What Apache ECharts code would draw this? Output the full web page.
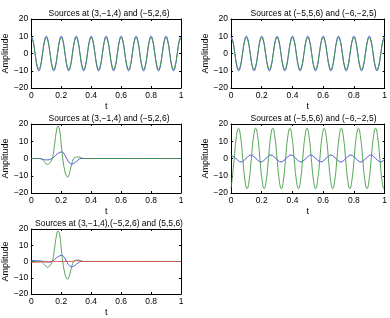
<!DOCTYPE html>
<html>
<head>
<meta charset="utf-8">
<script src="https://cdn.jsdelivr.net/npm/echarts@6/dist/echarts.min.js"></script>
<style>
html, body { margin: 0; padding: 0; background: #fff; }
#chart { width: 390px; height: 318px; }
</style>
</head>
<body>
<div id="chart"></div>
<script>
// panel titles
const titles = [
  'Sources at (3,\u22121,4) and (\u22125,2,6)',
  'Sources at (\u22125,5,6) and (\u22126,\u22122,5)',
  'Sources at (3,\u22121,4) and (\u22125,2,6)',
  'Sources at (\u22125,5,6) and (\u22126,\u22122,5)',
  'Sources at (3,\u22121,4),(\u22125,2,6) and (5,5,6)'
];
const xTicks = [0, 0.2, 0.4, 0.6, 0.8, 1];
const yTicks = [-20, -10, 0, 10, 20];

// top row: 10 Hz tones, sampled every 0.0125 s
const tFine = [
  0, 0.0125, 0.025, 0.0375, 0.05, 0.0625, 0.075, 0.0875,
  0.1, 0.1125, 0.125, 0.1375, 0.15, 0.1625, 0.175, 0.1875,
  0.2, 0.2125, 0.225, 0.2375, 0.25, 0.2625, 0.275, 0.2875,
  0.3, 0.3125, 0.325, 0.3375, 0.35, 0.3625, 0.375, 0.3875,
  0.4, 0.4125, 0.425, 0.4375, 0.45, 0.4625, 0.475, 0.4875,
  0.5, 0.5125, 0.525, 0.5375, 0.55, 0.5625, 0.575, 0.5875,
  0.6, 0.6125, 0.625, 0.6375, 0.65, 0.6625, 0.675, 0.6875,
  0.7, 0.7125, 0.725, 0.7375, 0.75, 0.7625, 0.775, 0.7875,
  0.8, 0.8125, 0.825, 0.8375, 0.85, 0.8625, 0.875, 0.8875,
  0.9, 0.9125, 0.925, 0.9375, 0.95, 0.9625, 0.975, 0.9875,
  1
];
const toneBlue = [
  10, 7.1, 0, -7.1, -10, -7.1, 0, 7.1,
  10, 7.1, 0, -7.1, -10, -7.1, 0, 7.1,
  10, 7.1, 0, -7.1, -10, -7.1, 0, 7.1,
  10, 7.1, 0, -7.1, -10, -7.1, 0, 7.1,
  10, 7.1, 0, -7.1, -10, -7.1, 0, 7.1,
  10, 7.1, 0, -7.1, -10, -7.1, 0, 7.1,
  10, 7.1, 0, -7.1, -10, -7.1, 0, 7.1,
  10, 7.1, 0, -7.1, -10, -7.1, 0, 7.1,
  10, 7.1, 0, -7.1, -10, -7.1, 0, 7.1,
  10, 7.1, 0, -7.1, -10, -7.1, 0, 7.1,
  10
];
const toneGreen = [
  9.2, 6.5, 0, -6.5, -9.2, -6.5, 0, 6.5,
  9.2, 6.5, 0, -6.5, -9.2, -6.5, 0, 6.5,
  9.2, 6.5, 0, -6.5, -9.2, -6.5, 0, 6.5,
  9.2, 6.5, 0, -6.5, -9.2, -6.5, 0, 6.5,
  9.2, 6.5, 0, -6.5, -9.2, -6.5, 0, 6.5,
  9.2, 6.5, 0, -6.5, -9.2, -6.5, 0, 6.5,
  9.2, 6.5, 0, -6.5, -9.2, -6.5, 0, 6.5,
  9.2, 6.5, 0, -6.5, -9.2, -6.5, 0, 6.5,
  9.2, 6.5, 0, -6.5, -9.2, -6.5, 0, 6.5,
  9.2, 6.5, 0, -6.5, -9.2, -6.5, 0, 6.5,
  9.2
];

// pulse (middle left, bottom left)
const pulseGreenT = [0, 0.06, 0.08, 0.1, 0.108, 0.12, 0.14, 0.155, 0.168, 0.178, 0.19, 0.2, 0.21,
  0.222, 0.235, 0.243, 0.252, 0.265, 0.283, 0.3, 0.318, 0.335, 0.355, 1];
const pulseGreen = [0, 0, -1.2, -3.2, -3.5, -2.8, 0, 8, 16, 18.8, 16, 8, 0,
  -6.5, -10.2, -10.8, -9.5, -5, 0, 0.8, 0.9, 0.3, 0, 0];
const pulseBlueT = [0, 0.05, 0.08, 0.1, 0.13, 0.15, 0.17, 0.19, 0.203, 0.215, 0.236, 0.255,
  0.275, 0.29, 0.31, 0.333, 1];
const pulseBlue = [0, 0, -0.6, -0.8, -0.3, 0.8, 2.4, 3.5, 3.8, 3.2, 0, -2.5,
  -3.1, -2.5, -1, 0, 0];
const mixBlueT = [0, 0.04, 0.08, 0.1, 0.13, 0.15, 0.17, 0.19, 0.203, 0.215, 0.236, 0.255,
  0.275, 0.29, 0.31, 0.333, 1];
const mixBlue = [0.6, 0.4, 0.1, -0.3, -0.3, 0.8, 2.4, 3.5, 3.8, 3.2, 0, -2.5,
  -3.1, -2.5, -1, 0, 0];
const mixRedT = [0, 0.05, 0.1, 0.15, 0.27, 0.3, 0.32, 0.35, 1];
const mixRed = [-0.6, -0.4, -0.15, 0, 0, 0.5, 0.4, 0, 0];

// middle right: strong ~9 Hz tone plus weak tone
const wideGreenT = [0, 0.0069, 0.0209, 0.0348, 0.0488, 0.0627, 0.0766, 0.0906,
  0.1045, 0.1184, 0.1324, 0.1463, 0.1603, 0.1742, 0.1881, 0.2021,
  0.216, 0.2299, 0.2439, 0.2578, 0.2718, 0.2857, 0.2996, 0.3136,
  0.3275, 0.3414, 0.3554, 0.3693, 0.3833, 0.3972, 0.4111, 0.4251,
  0.439, 0.4529, 0.4669, 0.4808, 0.4948, 0.5087, 0.5226, 0.5366,
  0.5505, 0.5644, 0.5784, 0.5923, 0.6063, 0.6202, 0.6341, 0.6481,
  0.662, 0.6759, 0.6899, 0.7038, 0.7178, 0.7317, 0.7456, 0.7596,
  0.7735, 0.7874, 0.8014, 0.8153, 0.8293, 0.8432, 0.8571, 0.8711,
  0.885, 0.8989, 0.9129, 0.9268, 0.9408, 0.9547, 0.9686, 0.9826,
  0.9965, 1];
const wideGreen = [-17.4, -12.4, 0, 12.4, 17.5, 12.4, 0, -12.4,
  -17.5, -12.4, 0, 12.4, 17.5, 12.4, 0, -12.4,
  -17.5, -12.4, 0, 12.4, 17.5, 12.4, 0, -12.4,
  -17.5, -12.4, 0, 12.4, 17.5, 12.4, 0, -12.4,
  -17.5, -12.4, 0, 12.4, 17.5, 12.4, 0, -12.4,
  -17.5, -12.4, 0, 12.4, 17.5, 12.4, 0, -12.4,
  -17.5, -12.4, 0, 12.4, 17.5, 12.4, 0, -12.4,
  -17.5, -12.4, 0, 12.4, 17.5, 12.4, 0, -12.4,
  -17.5, -12.4, 0, 12.4, 17.5, 12.4, 0, -12.4,
  -17.5, -17.4];
const wideBlueT = [0, 0.0325, 0.065, 0.0975, 0.13, 0.1625, 0.195, 0.2275, 0.26, 0.2925,
  0.325, 0.3575, 0.39, 0.4225, 0.455, 0.4875, 0.52, 0.5525, 0.585, 0.6175,
  0.65, 0.6825, 0.715, 0.7475, 0.78, 0.8125, 0.845, 0.8775, 0.91, 0.9425,
  0.975, 1];
const wideBlue = [2, 0, -2, 0, 2, 0, -2, 0, 2, 0,
  -2, 0, 2, 0, -2, 0, 2, 0, -2, 0,
  2, 0, -2, 0, 2, 0, -2, 0, 2, 0,
  -2, -0.5];

const BLUE = '#3a3ad8';
const GREEN = '#3f9a3f';
const RED = '#e05050';
const FONT = 'Liberation Sans';

const grids = [
  { left: 27, top: 19, width: 154, height: 69, nameGap: 20 },
  { left: 231, top: 19, width: 155, height: 69, nameGap: 18 },
  { left: 27, top: 124, width: 154, height: 69, nameGap: 20 },
  { left: 231, top: 124, width: 155, height: 69, nameGap: 18 },
  { left: 27, top: 229, width: 154, height: 69, nameGap: 20 }
];

function pairs(ts, vs) {
  return ts.map((t, i) => [t, vs[i]]);
}

const lines = [
  [[tFine, toneBlue, BLUE], [tFine, toneGreen, GREEN]],
  [[tFine, toneBlue, BLUE], [tFine, toneGreen, GREEN]],
  [[pulseBlueT, pulseBlue, BLUE], [pulseGreenT, pulseGreen, GREEN]],
  [[wideBlueT, wideBlue, BLUE], [wideGreenT, wideGreen, GREEN]],
  [[mixBlueT, mixBlue, BLUE], [pulseGreenT, pulseGreen, GREEN], [mixRedT, mixRed, RED]]
];

const minus = v => String(v).replace('-', '\u2212');
const lineAx = { show: true, onZero: false, lineStyle: { color: '#000', width: 1 } };
const tick = { show: true, inside: true, length: 2, lineStyle: { color: '#000', width: 1 } };
const lbl = { color: '#000', fontSize: 8.5, fontFamily: FONT };
const nameLbl = { color: '#000', fontSize: 9, fontFamily: FONT };

const xAxis = [], yAxis = [], series = [], title = [];
grids.forEach((g, i) => {
  title.push({
    text: titles[i], left: g.left + g.width / 2, top: g.top - 15, textAlign: 'center',
    textStyle: { fontSize: 8.5, fontWeight: 'normal', color: '#000', fontFamily: FONT }
  });
  xAxis.push({
    gridIndex: i, type: 'value', min: 0, max: 1, interval: 0.2, position: 'bottom',
    axisLine: lineAx, axisTick: tick, splitLine: { show: false },
    axisLabel: Object.assign({ margin: 3 }, lbl),
    name: 't', nameLocation: 'middle', nameGap: 14,
    nameTextStyle: nameLbl
  });
  yAxis.push({
    gridIndex: i, type: 'value', min: -20, max: 20, interval: 10, position: 'left',
    axisLine: lineAx, axisTick: tick, splitLine: { show: false },
    axisLabel: Object.assign({ margin: 3, formatter: minus }, lbl),
    name: 'Amplitude', nameLocation: 'middle', nameGap: g.nameGap,
    nameTextStyle: nameLbl
  });
});
grids.forEach((g, i) => {
  // mirrored box sides
  xAxis.push({
    gridIndex: i, type: 'value', min: 0, max: 1, interval: 0.2, position: 'top',
    axisLine: lineAx, axisTick: tick, axisLabel: { show: false }, splitLine: { show: false }
  });
  yAxis.push({
    gridIndex: i, type: 'value', min: -20, max: 20, interval: 10, position: 'right',
    axisLine: lineAx, axisTick: tick, axisLabel: { show: false }, splitLine: { show: false }
  });
  lines[i].forEach(([ts, vs, color]) => {
    series.push({
      type: 'line', xAxisIndex: i, yAxisIndex: i, data: pairs(ts, vs),
      smooth: 0.5, showSymbol: false, symbol: 'none',
      lineStyle: { color: color, width: 0.9 }, silent: true
    });
  });
});

const chart = echarts.init(document.getElementById('chart'));
chart.setOption({
  animation: false,
  backgroundColor: '#fff',
  title: title,
  grid: grids.map(g => ({ left: g.left, top: g.top, width: g.width, height: g.height })),
  xAxis: xAxis,
  yAxis: yAxis,
  series: series
});
</script>
</body>
</html>
